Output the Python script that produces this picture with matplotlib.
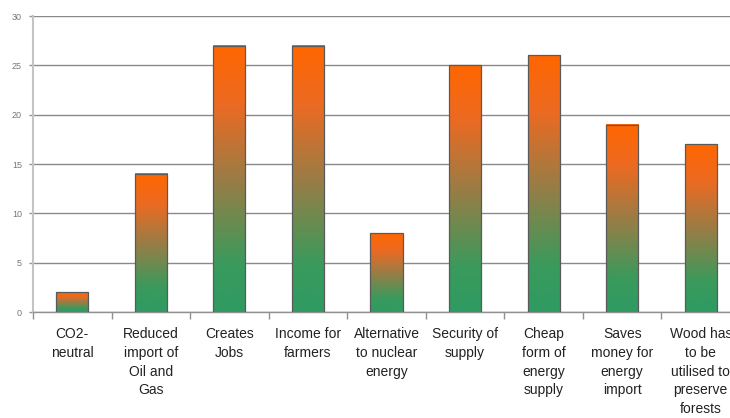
import numpy as np
import matplotlib
matplotlib.use("Agg")
import matplotlib.pyplot as plt
from matplotlib.colors import LinearSegmentedColormap

categories = [
    "CO2-\nneutral",
    "Reduced\nimport of\nOil and\nGas",
    "Creates\nJobs",
    "Income for\nfarmers",
    "Alternative\nto nuclear\nenergy",
    "Security of\nsupply",
    "Cheap\nform of\nenergy\nsupply",
    "Saves\nmoney for\nenergy\nimport",
    "Wood has\nto be\nutilised to\npreserve\nforests",
]
values = [2, 14, 27, 27, 8, 25, 26, 19, 17]
y_ticks = [0, 5, 10, 15, 20, 25, 30]

plt.rcParams["font.family"] = ["Liberation Sans", "DejaVu Sans"]

fig = plt.figure(figsize=(7.3, 4.18), dpi=100)
# axes runs slightly past the right edge of the figure
ax = fig.add_axes([33 / 730, 106 / 418, 707 / 730, 296 / 418])

grad_cmap = LinearSegmentedColormap.from_list(
    "green_orange",
    [(0.0, "#2f9a62"), (0.18, "#3a9a5c"), (0.5, "#9b7c45"),
     (0.78, "#ec6a22"), (1.0, "#ff6600")],
)
gradient = np.linspace(1, 0, 256).reshape(-1, 1)

n = len(values)
x = np.arange(n)
bar_w = 0.41
for xi, v in zip(x, values):
    ax.imshow(gradient, cmap=grad_cmap, aspect="auto", interpolation="bilinear",
              extent=(xi - bar_w / 2, xi + bar_w / 2, 0, v), zorder=2)
bars = ax.bar(x, values, width=bar_w, facecolor="none",
              edgecolor="#5a5a5a", linewidth=0.9, zorder=3)

ax.set_xlim(-0.5, n - 0.5)
ax.set_ylim(0, 30)
ax.set_yticks(y_ticks)
ax.set_yticklabels([str(t) for t in y_ticks])

ax.set_xticks(x)
ax.set_xticklabels(categories, fontsize=10, color="#222222", linespacing=1.42,
                   va="top")
ax.set_xticks(np.arange(-0.5, n, 1.0), minor=True)
ax.tick_params(axis="x", which="major", length=0, pad=11)
ax.tick_params(axis="x", which="minor", length=5, width=1.0, color="#909090",
               direction="out")
ax.tick_params(axis="y", length=3, width=1.0, color="#909090", pad=5,
               labelsize=6.5, labelcolor="#777777")

ax.yaxis.grid(True, color="#8a8a8a", linewidth=1.0, zorder=0)
ax.set_axisbelow(True)

for side in ("top", "right"):
    ax.spines[side].set_visible(False)
ax.spines["left"].set_color("#c4c4c4")
ax.spines["left"].set_linewidth(1.5)
ax.spines["bottom"].set_color("#909090")
ax.spines["bottom"].set_linewidth(1.0)

fig.savefig("out.png", dpi=100)
